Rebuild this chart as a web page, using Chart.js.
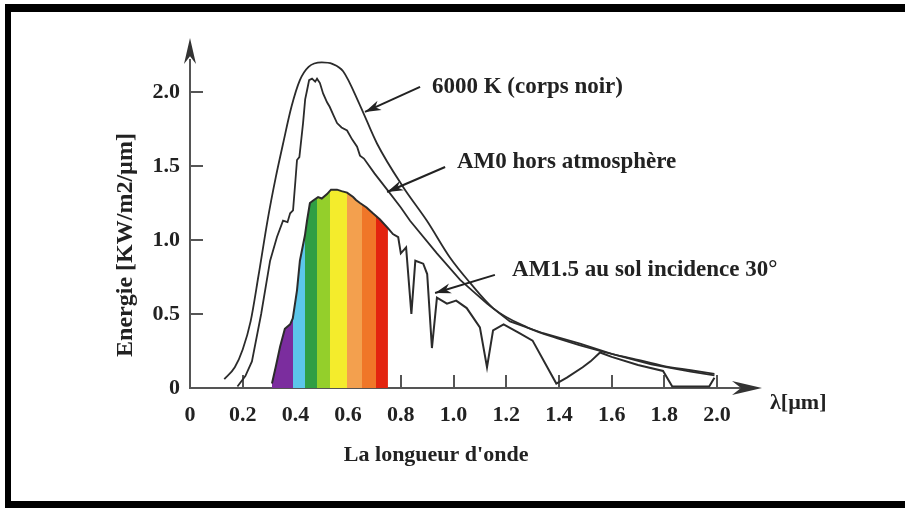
<!DOCTYPE html>
<html>
<head>
<meta charset="utf-8">
<script src="https://cdn.jsdelivr.net/npm/chart.js@4.4.1/dist/chart.umd.min.js"></script>
<style>
  html, body { margin: 0; padding: 0; background: #fff; }
  canvas { display: block; }
</style>
</head>
<body>
<canvas id="spectre" width="905" height="508"></canvas>
<script>
// corps noir 6000 K (lambda en um, energie en KW/m2/um)
var bbX = [0.13, 0.17, 0.20, 0.23, 0.26, 0.296, 0.325, 0.353, 0.385, 0.417, 0.45, 0.50, 0.54, 0.581, 0.645, 0.71, 0.808, 0.899, 0.987, 1.063, 1.15, 1.279, 1.404, 1.556, 1.70, 1.795, 1.90, 1.99];
var bbY = [0.06, 0.14, 0.26, 0.45, 0.76, 1.15, 1.42, 1.65, 1.90, 2.08, 2.17, 2.20, 2.19, 2.14, 1.91, 1.65, 1.36, 1.13, 0.88, 0.71, 0.54, 0.41, 0.33, 0.25, 0.19, 0.15, 0.12, 0.095];

// AM0 hors atmosphere
var am0X = [0.18, 0.21, 0.235, 0.27, 0.304, 0.33, 0.353, 0.37, 0.38, 0.391, 0.40, 0.406, 0.415, 0.429, 0.437, 0.444, 0.452, 0.463, 0.475, 0.482, 0.493, 0.505, 0.52, 0.53, 0.545, 0.558, 0.575, 0.596, 0.615, 0.634, 0.645, 0.66, 0.70, 0.748, 0.80, 0.835, 0.937, 1.025, 1.127, 1.214, 1.34, 1.48, 1.60, 1.75, 1.90, 1.99];
var am0Y = [0.01, 0.08, 0.18, 0.50, 0.86, 1.02, 1.13, 1.12, 1.18, 1.20, 1.40, 1.54, 1.56, 1.79, 1.95, 2.01, 2.08, 2.09, 2.07, 2.09, 2.06, 1.99, 1.93, 1.90, 1.84, 1.79, 1.76, 1.74, 1.68, 1.63, 1.57, 1.55, 1.45, 1.34, 1.22, 1.13, 0.91, 0.73, 0.57, 0.45, 0.37, 0.30, 0.23, 0.16, 0.11, 0.085];

// AM1.5 au sol
var am15X = [0.311, 0.325, 0.342, 0.36, 0.38, 0.39, 0.406, 0.417, 0.436, 0.444, 0.455, 0.47, 0.486, 0.50, 0.52, 0.535, 0.558, 0.575, 0.596, 0.619, 0.63, 0.645, 0.67, 0.694, 0.72, 0.751, 0.77, 0.79, 0.80, 0.82, 0.84, 0.855, 0.885, 0.90, 0.918, 0.937, 0.975, 1.01, 1.05, 1.10, 1.127, 1.15, 1.19, 1.25, 1.30, 1.39, 1.43, 1.49, 1.52, 1.556, 1.60, 1.70, 1.795, 1.83, 1.97, 1.99];
var am15Y = [0.03, 0.14, 0.28, 0.40, 0.43, 0.47, 0.66, 0.86, 1.03, 1.13, 1.25, 1.27, 1.29, 1.28, 1.31, 1.34, 1.34, 1.33, 1.32, 1.29, 1.27, 1.25, 1.22, 1.18, 1.14, 1.08, 1.04, 1.02, 0.91, 0.95, 0.50, 0.86, 0.84, 0.77, 0.27, 0.61, 0.57, 0.59, 0.54, 0.41, 0.14, 0.39, 0.43, 0.37, 0.32, 0.03, 0.07, 0.14, 0.18, 0.24, 0.21, 0.155, 0.115, 0.01, 0.01, 0.07];

// partie visible du spectre
var visibleEnd = 0.751;
var bandEdges = [0.30, 0.391, 0.436, 0.482, 0.531, 0.596, 0.652, 0.705, 0.76];
var bandColors = ["#7b2d9e", "#5cc6ea", "#2f9e44", "#94cf2b", "#f4ec2c", "#f3a04e", "#f07628", "#e3240f"];

var xTickValues = [0, 0.2, 0.4, 0.6, 0.8, 1.0, 1.2, 1.4, 1.6, 1.8, 2.0];
var xTickLabels = ["0", "0.2", "0.4", "0.6", "0.8", "1.0", "1.2", "1.4", "1.6", "1.8", "2.0"];
var yTickValues = [0, 0.5, 1.0, 1.5, 2.0];
var yTickLabels = ["0", "0.5", "1.0", "1.5", "2.0"];

// annotations : texte, position du texte, queue et pointe de la fleche (en unites du graphe)
var noteTexts = ["6000 K (corps noir)", "AM0 hors atmosphère", "AM1.5 au sol incidence 30°"];
var noteX = [0.918, 1.013, 1.222];
var noteY = [2.034, 1.527, 0.797];
var arrowFromX = [0.873, 0.968, 1.157];
var arrowFromY = [2.034, 1.493, 0.764];
var arrowToX = [0.664, 0.748, 0.93];
var arrowToY = [1.865, 1.324, 0.642];

var xTitle = "La longueur d'onde";
var yTitle = "Energie [KW/m2/µm]";
var xUnit = "λ[µm]";

function toPoints(xs, ys) {
  return xs.map(function (x, i) { return { x: x, y: ys[i] }; });
}

var visibleX = am15X.filter(function (x) { return x <= visibleEnd; });
var visibleY = am15Y.slice(0, visibleX.length);

function rainbow(context) {
  var chart = context.chart;
  if (!chart.chartArea) return "rgba(0,0,0,0)";
  var xs = chart.scales.x;
  var x0 = xs.getPixelForValue(bandEdges[0]);
  var x1 = xs.getPixelForValue(bandEdges[bandEdges.length - 1]);
  var g = chart.ctx.createLinearGradient(x0, 0, x1, 0);
  for (var i = 0; i < bandColors.length; i++) {
    var a = (xs.getPixelForValue(bandEdges[i]) - x0) / (x1 - x0);
    var b = (xs.getPixelForValue(bandEdges[i + 1]) - x0) / (x1 - x0);
    g.addColorStop(a, bandColors[i]);
    g.addColorStop(b, bandColors[i]);
  }
  return g;
}

function arrowHead(ctx, fx, fy, tx, ty, len, half) {
  var ang = Math.atan2(ty - fy, tx - fx);
  ctx.beginPath();
  ctx.moveTo(tx, ty);
  ctx.lineTo(tx - len * Math.cos(ang) + half * Math.sin(ang), ty - len * Math.sin(ang) - half * Math.cos(ang));
  ctx.lineTo(tx - len * 0.7 * Math.cos(ang), ty - len * 0.7 * Math.sin(ang));
  ctx.lineTo(tx - len * Math.cos(ang) - half * Math.sin(ang), ty - len * Math.sin(ang) + half * Math.cos(ang));
  ctx.closePath();
  ctx.fill();
}

var decor = {
  id: "decor",
  beforeDraw: function (chart) {
    var ctx = chart.ctx;
    ctx.save();
    ctx.fillStyle = "#fff";
    ctx.fillRect(0, 0, chart.width, chart.height);
    ctx.restore();
  },
  afterDraw: function (chart) {
    var ctx = chart.ctx;
    var area = chart.chartArea;
    var xs = chart.scales.x;
    var ys = chart.scales.y;
    var x0 = xs.getPixelForValue(0);
    var y0 = ys.getPixelForValue(0);
    ctx.save();

    // fleches des axes
    ctx.fillStyle = "#333";
    arrowHead(ctx, area.right - 30, y0, area.right + 22, y0, 30, 7);
    arrowHead(ctx, x0, area.top + 30, x0, area.top - 22, 26, 6);

    // annotations
    ctx.strokeStyle = "#222";
    ctx.fillStyle = "#222";
    ctx.lineWidth = 2;
    ctx.font = "bold 23px 'Liberation Serif'";
    ctx.textBaseline = "middle";
    ctx.textAlign = "left";
    for (var i = 0; i < noteTexts.length; i++) {
      ctx.fillText(noteTexts[i], xs.getPixelForValue(noteX[i]), ys.getPixelForValue(noteY[i]));
      var fx = xs.getPixelForValue(arrowFromX[i]), fy = ys.getPixelForValue(arrowFromY[i]);
      var tx = xs.getPixelForValue(arrowToX[i]), ty = ys.getPixelForValue(arrowToY[i]);
      ctx.beginPath();
      ctx.moveTo(fx, fy);
      ctx.lineTo(tx, ty);
      ctx.stroke();
      arrowHead(ctx, fx, fy, tx, ty, 16, 5);
    }

    // titres des axes
    ctx.font = "bold 22px 'Liberation Serif'";
    ctx.textAlign = "left";
    ctx.fillText(xUnit, area.right + 30, y0 + 15);
    ctx.textAlign = "center";
    ctx.fillText(xTitle, xs.getPixelForValue(0.934), y0 + 67);
    ctx.save();
    ctx.translate(x0 - 64, ys.getPixelForValue(0.966));
    ctx.rotate(-Math.PI / 2);
    ctx.font = "bold 24px 'Liberation Serif'";
    ctx.fillText(yTitle, 0, 0);
    ctx.restore();

    // cadre
    ctx.fillStyle = "#000";
    ctx.fillRect(5, 4, chart.width - 5, 8);
    ctx.fillRect(5, 4, 6, chart.height - 4);
    ctx.fillRect(5, chart.height - 7, chart.width - 5, 7);
    ctx.restore();
  }
};

var tickFont = { family: "'Liberation Serif'", size: 22, weight: "bold" };

new Chart("spectre", {
  type: "line",
  data: {
    datasets: [{
      label: "6000 K (corps noir)",
      data: toPoints(bbX, bbY),
      borderColor: "#2b2b2b",
      borderWidth: 1.8,
      pointRadius: 0,
      cubicInterpolationMode: "monotone",
      fill: false,
      order: 1
    }, {
      label: "AM0 hors atmosphère",
      data: toPoints(am0X, am0Y),
      borderColor: "#2b2b2b",
      borderWidth: 1.8,
      pointRadius: 0,
      tension: 0,
      fill: false,
      order: 2
    }, {
      label: "AM1.5 au sol incidence 30°",
      data: toPoints(am15X, am15Y),
      borderColor: "#2b2b2b",
      borderWidth: 2,
      pointRadius: 0,
      tension: 0,
      fill: false,
      order: 3
    }, {
      label: "visible",
      data: toPoints(visibleX, visibleY),
      borderWidth: 0,
      borderColor: "rgba(0,0,0,0)",
      backgroundColor: rainbow,
      pointRadius: 0,
      tension: 0,
      fill: "origin",
      order: 10
    }]
  },
  options: {
    responsive: false,
    animation: false,
    layout: { padding: { left: 10, right: 165, top: 60, bottom: 10 } },
    plugins: {
      legend: { display: false },
      tooltip: { enabled: false }
    },
    scales: {
      x: {
        type: "linear",
        min: 0,
        max: 2.087,
        afterFit: function (scale) { scale.height = 110; },
        afterBuildTicks: function (scale) {
          scale.ticks = xTickValues.map(function (v) { return { value: v }; });
        },
        ticks: {
          autoSkip: false,
          maxRotation: 0,
          padding: 27,
          color: "#222",
          font: tickFont,
          callback: function (v, i) { return xTickLabels[i]; }
        },
        grid: { drawOnChartArea: false, drawTicks: true, tickLength: -13, color: "#555", lineWidth: 2 },
        border: { display: true, color: "#555", width: 2 }
      },
      y: {
        type: "linear",
        min: 0,
        max: 2.216,
        afterFit: function (scale) { scale.width = 180; },
        afterBuildTicks: function (scale) {
          scale.ticks = yTickValues.map(function (v) { return { value: v }; });
        },
        ticks: {
          padding: 23,
          color: "#222",
          font: tickFont,
          callback: function (v, i) { return yTickLabels[i]; }
        },
        grid: { drawOnChartArea: false, drawTicks: true, tickLength: -13, color: "#555", lineWidth: 2 },
        border: { display: true, color: "#555", width: 2 }
      }
    }
  },
  plugins: [decor]
});
</script>
</body>
</html>
